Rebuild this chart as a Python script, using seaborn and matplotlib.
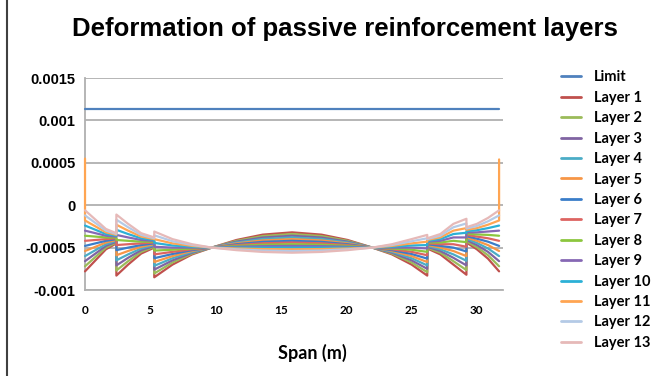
import matplotlib
matplotlib.use("Agg")
import matplotlib.pyplot as plt
from matplotlib.lines import Line2D
import pandas as pd
import seaborn as sns

# ---------------------------------------------------
# Data (strain values in units of 1e-4)
# ---------------------------------------------------

span = [0, 0.8, 1.6, 2.4, 2.4, 3.3, 4.3, 5.3, 5.3, 6.7, 8.2, 9.7,
        11.6, 13.6, 15.85, 18.1, 20.1, 22.0, 23.5, 25.0, 26.2, 26.2,
        27.2, 28.2, 29.2, 29.2, 30.0, 30.85, 31.7]

limit_span = [0, 31.7]
limit_value = [11.4, 11.4]

layer_1 = [-7.8, -6.5, -5.2, -4.5, -8.3, -7.0, -5.7, -5.0, -8.5, -7.0, -5.8, -5.0,
           -4.1, -3.47, -3.2, -3.47, -4.1, -5.0, -5.8, -7.0, -8.3, -5.1,
           -5.8, -7.0, -8.2, -4.4, -5.2, -6.3, -7.8]
layer_2 = [-7.2, -6.1, -5.0, -4.4, -7.7, -6.6, -5.5, -4.9, -8.05, -6.75, -5.7, -5.0,
           -4.2, -3.64, -3.4, -3.64, -4.2, -5.0, -5.7, -6.75, -7.9, -5.0,
           -5.6, -6.6, -7.65, -4.25, -4.95, -5.9, -7.2]
layer_3 = [-6.6, -5.7, -4.8, -4.3, -7.1, -6.2, -5.3, -4.8, -7.6, -6.5, -5.6, -5.0,
           -4.3, -3.81, -3.6, -3.81, -4.3, -5.0, -5.6, -6.5, -7.5, -4.9,
           -5.4, -6.2, -7.1, -4.1, -4.7, -5.5, -6.6]
layer_4 = [-6.0, -5.3, -4.6, -4.2, -6.5, -5.8, -5.1, -4.7, -7.15, -6.25, -5.5, -5.0,
           -4.4, -3.98, -3.8, -3.98, -4.4, -5.0, -5.5, -6.25, -7.1, -4.8,
           -5.2, -5.8, -6.55, -3.95, -4.45, -5.1, -6.0]
layer_5 = [-5.4, -4.9, -4.4, -4.1, -5.9, -5.4, -4.9, -4.6, -6.7, -6.0, -5.4, -5.0,
           -4.5, -4.15, -4.0, -4.15, -4.5, -5.0, -5.4, -6.0, -6.7, -4.7,
           -5.0, -5.4, -6.0, -3.8, -4.2, -4.7, -5.4]
layer_6 = [-4.8, -4.5, -4.2, -4.0, -5.3, -5.0, -4.7, -4.5, -6.25, -5.75, -5.3, -5.0,
           -4.6, -4.32, -4.2, -4.32, -4.6, -5.0, -5.3, -5.75, -6.3, -4.6,
           -4.8, -5.0, -5.45, -3.65, -3.95, -4.3, -4.8]
layer_7 = [-4.2, -4.1, -4.0, -3.9, -4.7, -4.6, -4.5, -4.4, -5.8, -5.5, -5.2, -5.0,
           -4.7, -4.49, -4.4, -4.49, -4.7, -5.0, -5.2, -5.5, -5.9, -4.5,
           -4.6, -4.6, -4.9, -3.5, -3.7, -3.9, -4.2]
layer_8 = [-3.6, -3.7, -3.8, -3.8, -4.1, -4.2, -4.3, -4.3, -5.35, -5.25, -5.1, -5.0,
           -4.8, -4.66, -4.6, -4.66, -4.8, -5.0, -5.1, -5.25, -5.5, -4.4,
           -4.4, -4.2, -4.35, -3.35, -3.45, -3.5, -3.6]
layer_9 = [-3.0, -3.3, -3.6, -3.7, -3.5, -3.8, -4.1, -4.2, -4.9, -5.0, -5.0, -5.0,
           -4.9, -4.83, -4.8, -4.83, -4.9, -5.0, -5.0, -5.0, -5.1, -4.3,
           -4.2, -3.8, -3.8, -3.2, -3.2, -3.1, -3.0]
layer_10 = [-2.4, -2.9, -3.4, -3.6, -2.9, -3.4, -3.9, -4.1, -4.45, -4.75, -4.9, -5.0,
            -5.0, -5.0, -5.0, -5.0, -5.0, -5.0, -4.9, -4.75, -4.7, -4.2,
            -4.0, -3.4, -3.25, -3.05, -2.95, -2.7, -2.4]
layer_11 = [-1.8, -2.5, -3.2, -3.5, -2.3, -3.0, -3.7, -4.0, -4.0, -4.5, -4.8, -5.0,
            -5.1, -5.17, -5.2, -5.17, -5.1, -5.0, -4.8, -4.5, -4.3, -4.1,
            -3.8, -3.0, -2.7, -2.9, -2.7, -2.3, -1.8]
layer_11_spike = [5.5, 5.4]   # peaks at both ends of the span
layer_12 = [-1.2, -2.1, -3.0, -3.4, -1.7, -2.6, -3.5, -3.9, -3.55, -4.25, -4.7, -5.0,
            -5.2, -5.34, -5.4, -5.34, -5.2, -5.0, -4.7, -4.25, -3.9, -4.0,
            -3.6, -2.6, -2.15, -2.75, -2.45, -1.9, -1.2]
layer_13 = [-0.6, -1.7, -2.8, -3.3, -1.1, -2.2, -3.3, -3.8, -3.1, -4.0, -4.6, -5.0,
            -5.3, -5.51, -5.6, -5.51, -5.3, -5.0, -4.6, -4.0, -3.5, -3.9,
            -3.4, -2.2, -1.6, -2.6, -2.2, -1.5, -0.6]

layers = [layer_1, layer_2, layer_3, layer_4, layer_5, layer_6, layer_7,
          layer_8, layer_9, layer_10, layer_11, layer_12, layer_13]
series_names = ["Limit"] + ["Layer %d" % (i + 1) for i in range(13)]

colors = ["#4F81BD", "#C0504D", "#9BBB59", "#8064A2", "#4BACC6", "#F79646",
          "#3A7DC9", "#DD6461", "#8CC63E", "#8668B4", "#2BB0D6", "#FFA552",
          "#B4CAE6", "#E6B9B8"]

y_ticks = [-0.001, -0.0005, 0, 0.0005, 0.001, 0.0015]
y_tick_labels = ["-0.001", "-0.0005", "0", "0.0005", "0.001", "0.0015"]
x_ticks = [0, 5, 10, 15, 20, 25, 30]

# ---------------------------------------------------
# Long table for seaborn
# ---------------------------------------------------

rows = []
for x, v in zip(limit_span, limit_value):
    rows.append(("Limit", x, v))
for i, vals in enumerate(layers):
    name = "Layer %d" % (i + 1)
    pts = list(zip(span, vals))
    if name == "Layer 11":
        pts = [(span[0], layer_11_spike[0])] + pts + [(span[-1], layer_11_spike[1])]
    for x, v in pts:
        rows.append((name, x, v))

df = pd.DataFrame(rows, columns=["series", "span", "value"])
df["strain"] = df["value"] * 1e-4

# ---------------------------------------------------
# Plot
# ---------------------------------------------------

sns.set_theme(style="white")
plt.rcParams["font.family"] = ["Liberation Sans", "DejaVu Sans"]
plt.rcParams["text.color"] = "black"
plt.rcParams["xtick.color"] = "black"
plt.rcParams["ytick.color"] = "black"

fig = plt.figure(figsize=(6.53, 3.76), dpi=100)
ax = fig.add_axes([0.1302, 0.2287, 0.6401, 0.5638])

palette = dict(zip(series_names, colors))
sns.lineplot(data=df, x="span", y="strain", hue="series", hue_order=series_names,
             palette=palette, estimator=None, sort=False, linewidth=1.6,
             legend=False, ax=ax)
for line in ax.get_lines():
    line.set_zorder(3)
    line.set_clip_on(False)

ax.set_xlim(0, 32)
ax.set_ylim(-0.001, 0.0015)
ax.set_yticks(y_ticks)
ax.set_yticklabels(y_tick_labels, fontsize=10.5, fontweight="bold",
                   family="Liberation Sans")
ax.set_xticks(x_ticks)
ax.set_xticklabels([str(t) for t in x_ticks], fontsize=8.5, fontweight="bold",
                   family="Lato")
ax.tick_params(axis="y", length=0, pad=7, colors="black")
ax.tick_params(axis="x", length=0, pad=11, colors="black")
ax.yaxis.grid(True, color="#B0B0B0", linewidth=1.3)
ax.xaxis.grid(False)
ax.set_axisbelow(True)
for side in ["top", "right"]:
    ax.spines[side].set_visible(False)
ax.spines["left"].set_color("#B0B0B0")
ax.spines["left"].set_linewidth(1.3)
ax.spines["bottom"].set_color("#B0B0B0")
ax.spines["bottom"].set_linewidth(1.3)
ax.set_xlabel("")
ax.set_ylabel("")

fig.text(0.529, 0.924, "Deformation of passive reinforcement layers",
         ha="center", va="center", fontsize=18.5, fontweight="bold",
         family="Liberation Sans", color="black")
fig.text(0.479, 0.061, "Span (m)", ha="center", va="center", fontsize=13,
         fontweight="bold", family="Lato", color="black")

handles = [Line2D([], [], color=c, linewidth=2) for c in colors]
fig.legend(handles, series_names, loc="upper left", bbox_to_anchor=(0.8474, 0.832),
           frameon=False, prop={"family": "Lato", "weight": "bold", "size": 10.5},
           handlelength=1.4, handletextpad=0.9, labelspacing=0.44, borderpad=0)

# thin frame line on the left edge
fig.add_artist(Line2D([7 / 653, 7 / 653], [0, 1], transform=fig.transFigure,
                      color="#404040", linewidth=1.5))

fig.savefig("out.png", dpi=100)
